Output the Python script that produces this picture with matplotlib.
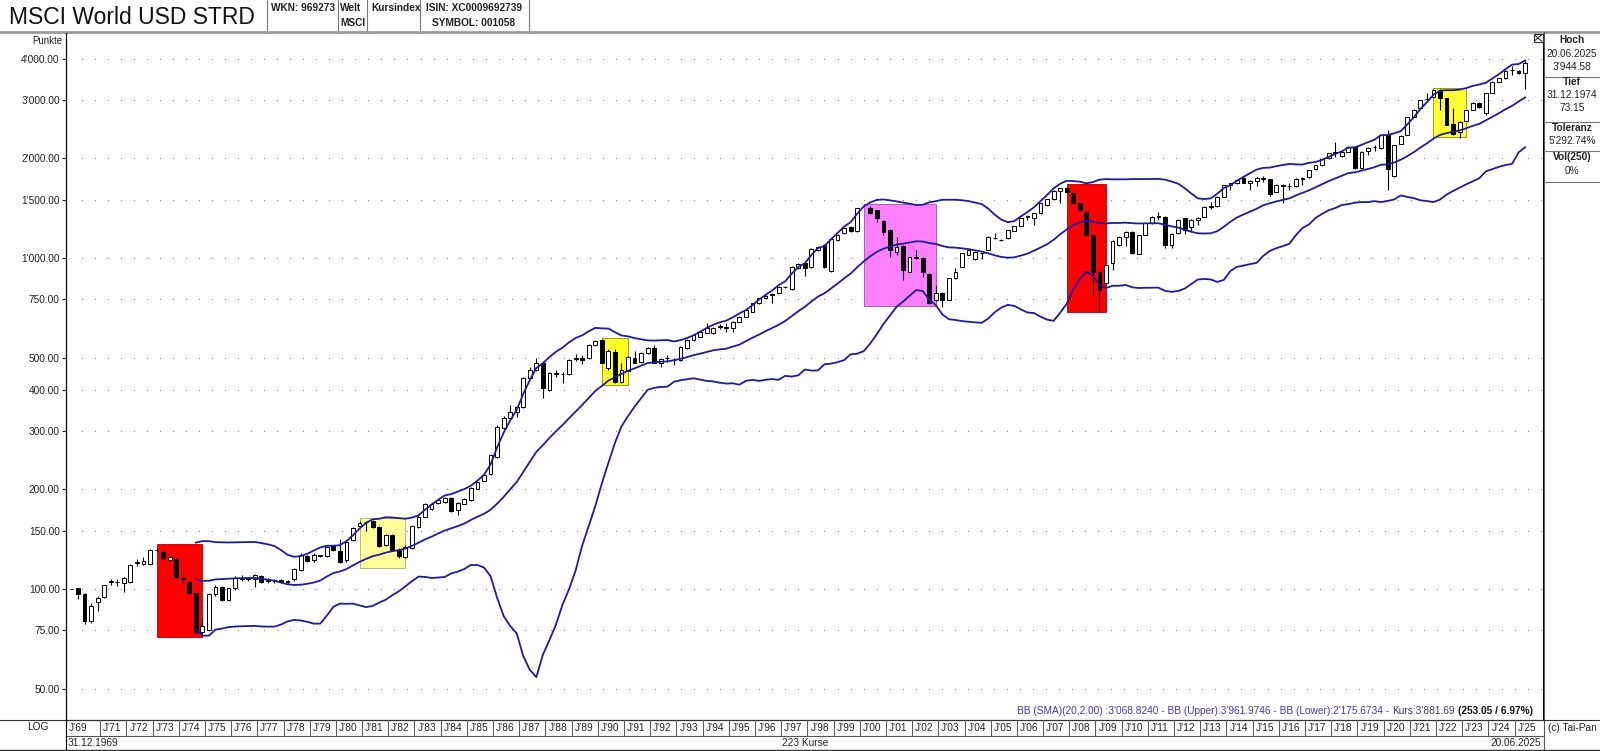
import numpy as np
import pandas as pd
import matplotlib
matplotlib.use("Agg")
import matplotlib.pyplot as plt
from matplotlib.ticker import NullLocator

plt.rcParams['font.family'] = ['Liberation Sans', 'DejaVu Sans']

# quarterly candles: base 31.12.1969, then 1970 Q1 ... 2025 Q2
# (the 2000 Q1 candle is not drawn in the chart, only its close is known)
nan = float('nan')
opens = [
    100,
    100.5, 96.4, 80, 91.5,  94.5, 105, 105, 104.5,  104.8, 120, 119, 119,
    131, 129.5, 122, 123.5,  108, 105, 97, 74.3,  75, 96.5, 101.5, 92.5,
    100.5, 108, 107.5, 107,  109.5, 106, 106, 106.5,  105, 107, 114, 125.8,
    122, 126, 126, 134.8,  130.5, 122, 141, 155,  159, 160.5, 153.5, 135.8,
    145.6, 131.5, 125.2, 133,  154, 165.4, 175, 181.5,  182.5, 188, 173.3, 180.3,
    185.7, 201, 212.5, 222,  251, 306, 328, 343,  354, 433, 459, 481,
    399, 447, 447, 446,  499, 500, 497, 546,  565, 464, 521, 423,
    456, 500, 485, 515,  534, 481, 497, 493,  492, 534, 565, 579,
    595, 592, 623, 620,  613, 642, 665, 688,  730, 755, 779, 786,
    818, 804, 931, 968,  941, 1057, 1095, 916,  1133, 1187, 1238, 1209,
    nan, 1413, 1396, 1297,  1215, 1045, 1087, 909,  1005, 998, 895, 747,
    786, 747, 868, 941,  1021, 991, 1033, 1057,  1147, 1133, 1147, 1209,
    1250, 1337, 1318, 1364,  1446, 1504, 1598, 1624,  1568, 1463, 1380, 1173,
    909, 838, 968, 1095,  1160, 1201, 1028, 1173,  1273, 1333, 1333, 1095,
    1190, 1318, 1243, 1303,  1333, 1429, 1436, 1532,  1662, 1681, 1749, 1689,
    1708, 1741, 1729, 1586,  1662, 1648, 1653, 1735,  1751, 1853, 1916, 2000,
    2090, 2033, 2095, 2169,  1866, 2105, 2160, 2144,  2358, 1769, 2210, 2353,
    2673, 2832, 3017, 3071,  3202, 3036, 2540, 2408,  2599, 2800, 2946, 2736,
    3143, 3409, 3488, 3700,  3681, 3632,
]
highs = [
    100,
    101, 97, 90.5, 95,  103, 107, 107, 108.5,  119, 123, 125, 132,
    133, 131, 126, 124,  111, 106, 97.5, 81.5,  97, 103, 102, 101,
    109.5, 110, 109, 111,  110, 108, 107, 107,  106.5, 116, 128, 127,
    128, 127, 135, 136,  142, 140, 154, 160,  161, 162, 155, 147,
    147, 133, 136, 156,  167, 182, 182, 187,  190, 189, 183, 188,
    203, 212, 222, 255,  312, 332, 360, 356,  436, 468, 498, 490,
    452, 459, 452, 495,  512, 508, 549, 566,  568, 530, 530, 481,
    505, 525, 520, 540,  546, 498, 509, 497,  542, 568, 588, 602,
    635, 620, 630, 635,  645, 668, 699, 733,  758, 772, 785, 822,
    825, 945, 965, 975,  1070, 1090, 1105, 1145,  1180, 1235, 1245, 1420,
    nan, 1440, 1400, 1300,  1220, 1160, 1095, 1010,  1057, 1005, 900, 829,
    790, 870, 931, 1036,  1067, 1048, 1038, 1163,  1187, 1145, 1218, 1253,
    1320, 1345, 1368, 1466,  1508, 1602, 1630, 1640,  1575, 1470, 1385, 1180,
    915, 955, 1130, 1163,  1205, 1210, 1177, 1276,  1336, 1380, 1340, 1190,
    1310, 1320, 1310, 1330,  1435, 1480, 1540, 1665,  1690, 1730, 1760, 1720,
    1760, 1769, 1735, 1670,  1670, 1681, 1740, 1760,  1850, 1915, 1990, 2080,
    2246, 2100, 2175, 2175,  2100, 2160, 2200, 2360,  2435, 2200, 2345, 2665,
    2810, 3010, 3143, 3230,  3250, 3045, 2832, 2590,  2805, 2950, 2955, 3150,
    3415, 3495, 3690, 3810,  3690, 3944.58,
]
lows = [
    100,
    93.5, 78.5, 79, 86,  94, 103, 102, 98,  104, 117, 118, 118,
    130, 123, 121.5, 107,  104, 96.5, 73.5, 73.15,  74.5, 95.5, 92, 92,
    99.5, 106, 106, 101.5,  104.5, 104, 104.5, 104,  104, 106, 113, 121,
    121, 125, 125, 130,  120, 121, 140, 154,  150, 153, 134, 135,
    130, 124, 124, 132,  153, 165, 173, 180,  182, 171, 167, 180,
    185, 200, 212, 221,  249, 304, 326, 330,  351, 430, 456, 377,
    396, 438, 418, 443,  489, 478, 494, 543,  480, 460, 420, 420,
    454, 480, 480, 512,  480, 470, 486, 475,  490, 530, 562, 576,
    592, 590, 612, 599,  599, 640, 662, 685,  727, 752, 733, 783,
    812, 800, 925, 882,  935, 1050, 935, 910,  1128, 1180, 1200, 1200,
    nan, 1355, 1288, 1173,  1009, 1021, 858, 905,  990, 878, 725, 740,
    713, 745, 865, 938,  1018, 988, 991, 1055,  1138, 1125, 1145, 1205,
    1247, 1303, 1258, 1360,  1440, 1500, 1463, 1580,  1455, 1390, 1165, 773,
    688, 830, 920, 1090,  1087, 1028, 1025, 1170,  1270, 1303, 1075, 1070,
    1185, 1180, 1200, 1260,  1330, 1405, 1430, 1525,  1600, 1670, 1680, 1605,
    1650, 1700, 1540, 1580,  1463, 1605, 1640, 1662,  1745, 1845, 1900, 1995,
    2024, 2025, 2090, 1860,  1860, 2050, 2100, 2140,  1602, 1760, 2205, 2345,
    2665, 2825, 2990, 3065,  2800, 2515, 2360, 2300,  2595, 2795, 2845, 2700,
    3140, 3405, 3480, 3580,  3605, 3232,
]
closes = [
    100,
    96.4, 80, 89, 93.7,  102.8, 105.5, 105.3, 108,  118, 120.3, 121.5, 131,
    131.5, 124, 124.5, 108.5,  107.5, 97.5, 74.3, 77.5,  96.5, 101.5, 92.5, 100.5,
    108, 107.5, 107.6, 110,  105, 106.5, 106.2, 105,  105.5, 115, 126.7, 121.8,
    126.7, 126.3, 134.3, 131.2,  121, 139, 152.5, 158.6,  159.5, 153.7, 134.8, 145.6,
    131.2, 125.8, 134.3, 155,  165.4, 180.3, 181, 185.7,  188, 172, 182, 186.5,
    202, 211, 221, 254,  309, 328, 343, 354,  433, 459, 481, 404,
    448, 449, 446, 492,  496, 492, 546, 563,  482, 524, 423, 459,
    503, 483, 515, 534,  483, 494, 499, 492,  540, 565, 585, 599,
    613, 616, 617, 613,  642, 665, 696, 730,  755, 768, 775, 819,
    820, 937, 959, 931,  1062, 1082, 941, 1139,  1173, 1229, 1209, 1413,
    1440, 1364, 1318, 1201,  1057, 1077, 920, 1005,  1000, 909, 730, 786,
    747, 868, 909, 1033,  1057, 1045, 1035, 1160,  1150, 1136, 1215, 1250,
    1318, 1330, 1364, 1463,  1504, 1598, 1624, 1586,  1463, 1396, 1173, 909,
    801, 952, 1128, 1160,  1201, 1033, 1173, 1273,  1333, 1335, 1095, 1183,
    1303, 1215, 1303, 1318,  1429, 1431, 1532, 1662,  1685, 1720, 1689, 1708,
    1741, 1736, 1561, 1662,  1648, 1653, 1735, 1741,  1845, 1910, 1985, 2071,
    2071, 2095, 2169, 1866,  2095, 2154, 2169, 2353,  1853, 2195, 2337, 2660,
    2800, 3001, 3030, 3217,  3036, 2522, 2369, 2581,  2800, 2946, 2852, 3143,
    3409, 3488, 3681, 3708,  3613, 3881.69,
]

# highlighted periods (candle index from/to, price range, colour)
box_from = [13, 44, 81, 121, 152, 208]
box_to = [20, 51, 85, 132, 158, 213]
box_low = [71.8, 115.5, 413.5, 716, 688, 2316]
box_high = [136.8, 164.3, 572, 1453, 1673, 3269]
box_colors = ['#ff0000', '#ffff99', '#ffff22', '#ff80ff', '#ff0000', '#ffff33']
box_edges = ['#b00000', '#b0b060', '#909000', '#a050a0', '#b00000', '#909000']

tick_values = [50, 75, 100, 150, 200, 300, 400, 500, 750, 1000, 1500, 2000, 3000, 4000]
years = [1969] + list(range(1971, 2026))

W, H = 1600, 751
fig = plt.figure(figsize=(W / 100, H / 100), dpi=100)


def px_rect(x0, y0, x1, y1):
    return [x0 / W, 1 - y1 / H, (x1 - x0) / W, (y1 - y0) / H]


def kx(k):
    # candle index -> pixel x
    return 71.45 + 6.548 * k


ax = fig.add_axes(px_rect(66, 33, 1543, 720))
ax.set_yscale('log')
ax.set_xlim(-0.83, 224.73)
ax.set_ylim(40.19, 4783)

o = np.array(opens, float)
h = np.array(highs, float)
l = np.array(lows, float)
c = np.array(closes, float)
k = np.arange(len(c))

# boxes
for x0, x1, lo, hi, col, ec in zip(box_from, box_to, box_low, box_high, box_colors, box_edges):
    ax.fill_between([x0, x1], lo, hi, facecolor=col, edgecolor=ec, lw=0.6, zorder=1)

# candles
ok = ~np.isnan(o)
up = ok & (c >= o)
dn = ok & (c < o)
ax.vlines(k[ok], l[ok], h[ok], color='black', lw=0.8, zorder=2)
lo_b = np.minimum(o, c)
hi_b = np.maximum(o, c)
ax.bar(k[up], (hi_b - lo_b)[up], bottom=lo_b[up], width=0.58,
       facecolor='white', edgecolor='black', lw=0.7, zorder=3)
ax.bar(k[dn], (hi_b - lo_b)[dn], bottom=lo_b[dn], width=0.58,
       facecolor='black', edgecolor='black', lw=0.7, zorder=3)

# Bollinger bands (20, 2.00) on the quarterly closes
s = pd.Series(c)
mid = s.rolling(20).mean()
sd = s.rolling(20).std(ddof=0)
for band in (mid + 2 * sd, mid, mid - 2 * sd):
    ax.plot(k, band, color='#1c1c9c', lw=1.3, zorder=4)

# dotted grid rows
dot_x = np.arange(1.57, 225, 1.99)
for v in tick_values:
    ax.plot(dot_x, [v] * len(dot_x), ls='none', marker='s', ms=0.8,
            mec='none', mfc='#8a8a8a', zorder=0)

ax.set_xticks([])
ax.yaxis.set_minor_locator(NullLocator())
ax.set_yticks(tick_values)
ax.set_yticklabels([f"{v:,.2f}".replace(',', "'") for v in tick_values])
ax.tick_params(axis='y', length=3, width=0.8, pad=1.5, labelsize=7.3, colors='#222222')
for sp in ax.spines.values():
    sp.set_linewidth(0.8)
    sp.set_color('black')
ax.spines['top'].set_visible(False)

# overlay in pixel coordinates for the frame and texts
fr = fig.add_axes([0, 0, 1, 1], facecolor='none', zorder=10)
fr.set_xlim(0, W)
fr.set_ylim(H, 0)
fr.axis('off')

txt = dict(fontsize=7.3, color='#222222')

# header
fr.text(9, 17, 'MSCI World USD STRD', fontsize=16.5, color='#111111', va='center', ha='left')
for x in (267, 338, 367, 420, 528.6):
    fr.plot([x, x], [0, 32], color='#777777', lw=0.8)
fr.plot([0, W], [32, 32], color='#9a9a9a', lw=2)
fr.text(271, 8, 'WKN: 969273', fontweight='bold', va='center', **txt)
fr.text(340, 8, 'Welt', fontweight='bold', va='center', **txt)
fr.text(340, 23, 'MSCI', fontweight='bold', va='center', **txt)
fr.text(371, 8, 'Kursindex', fontweight='bold', va='center', **txt)
fr.text(474, 8, 'ISIN: XC0009692739', fontweight='bold', va='center', ha='center', **txt)
fr.text(474, 23, 'SYMBOL: 001058', fontweight='bold', va='center', ha='center', **txt)
fr.text(62, 41, 'Punkte', ha='right', va='center', fontsize=7, color='#222222')

# right info panel
fr.plot([1544, 1544], [32, H], color='#555555', lw=0.8)
for y in (77, 122, 151, 182):
    fr.plot([1544, W], [y, y], color='#777777', lw=0.8)
panel = [(40, 'Hoch', True), (54, '20.06.2025', False), (67, "3'944.58", False),
         (82, 'Tief', True), (95, '31.12.1974', False), (108, '73.15', False),
         (128, 'Toleranz', True), (141, "5'292.74%", False),
         (157, 'Vol(250)', True), (171, '0%', False)]
for y, t, b in panel:
    fr.text(1572, y, t, ha='center', va='center', fontweight='bold' if b else 'normal', **txt)
fr.add_patch(plt.Rectangle((1533.5, 34), 9, 8, fill=False, ec='#333333', lw=0.8))
fr.plot([1534.5, 1541.5], [35, 41], color='#333333', lw=0.8)
fr.plot([1534.5, 1541.5], [41, 35], color='#333333', lw=0.8)

# bottom date rows
fr.plot([0, W], [720, 720], color='#333333', lw=0.8)
fr.plot([66, 1544], [735.5, 735.5], color='#555555', lw=0.8)
fr.plot([0, W], [750, 750], color='#333333', lw=1)
fr.plot([66, 66], [33, H], color='black', lw=0.8)
fr.text(38, 727.5, 'LOG', ha='center', va='center', **txt)
for y in years:
    if y == 1969:
        x = 66
    else:
        x = kx(1 + 4 * (y - 1970)) - 4
        fr.plot([x, x], [720, 735.5], color='#555555', lw=0.7)
    fr.text(x + 3, 728, "J\u2019%02d" % (y % 100), ha='left', va='center', **txt)
fr.text(68, 743, '31.12.1969', ha='left', va='center', **txt)
fr.text(805, 743, '223 Kurse', ha='center', va='center', **txt)
fr.text(1541, 743, '20.06.2025', ha='right', va='center', **txt)
fr.text(1572, 728, '(c) Tai-Pan', ha='center', va='center', **txt)

# indicator legend, built right to left
fig.canvas.draw()
rend = fig.canvas.get_renderer()
parts = [("BB (SMA)(20,2.00) :3'068.8240 - BB (Upper):3'961.9746 - BB (Lower):2'175.6734 - ",
          '#3c3cb4', 'normal'),
         ("Kurs:3'881.69 ", '#3a3a6a', 'normal'),
         ('(253.05 / 6.97%)', '#111111', 'bold')]
x = 1533
for t, col, wgt in reversed(parts):
    tt = fr.text(x, 711, t.strip(), ha='right', va='center', fontsize=7.3, color=col, fontweight=wgt)
    x -= tt.get_window_extent(renderer=rend).width + 3

fig.savefig('out.png', dpi=100, facecolor='white')
